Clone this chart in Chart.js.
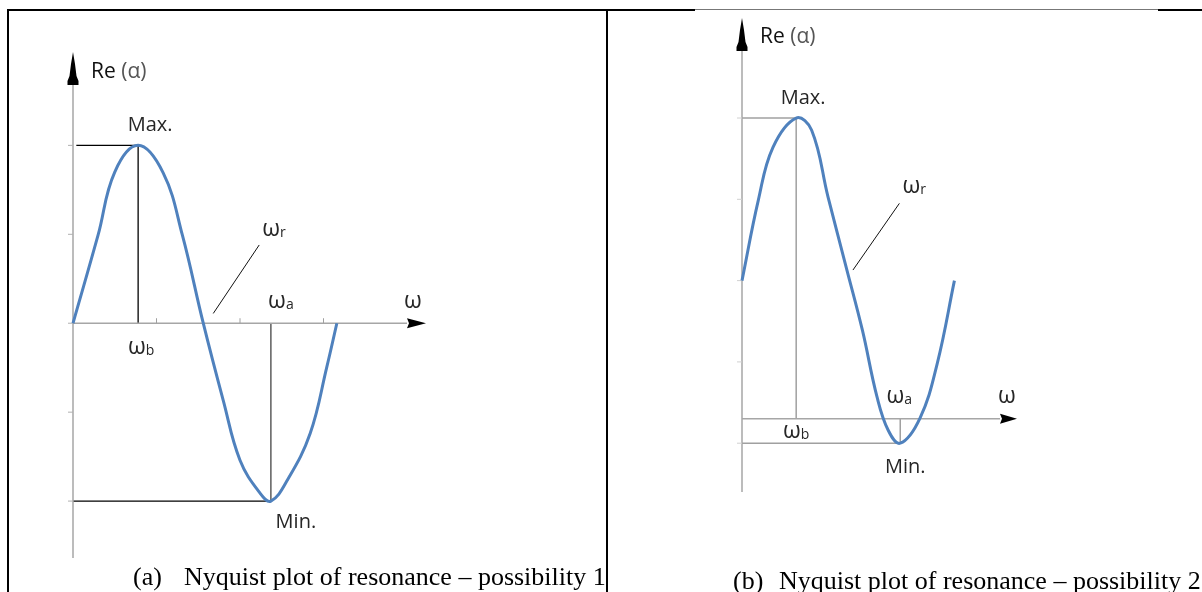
<!DOCTYPE html>
<html>
<head>
<meta charset="utf-8">
<script src="https://cdn.jsdelivr.net/npm/chart.js@4.4.0/dist/chart.umd.min.js"></script>
<style>
    body { margin: 0; background: #fff; }
    #page { position: relative; width: 1202px; height: 592px; overflow: hidden; background: #fff; }
    .panel { position: absolute; top: 0; height: 592px; overflow: hidden; }
    .panel canvas { position: absolute; left: 0; top: 0; }
    .rule { position: absolute; background: #000; }
    .cap { position: absolute; font-family: "Liberation Serif", "Times New Roman", serif; font-size: 26px; color: #000; white-space: nowrap; line-height: 26px; }
</style>
</head>
<body>
<div id="page">
    <div class="panel" style="left:0;width:607px">
        <canvas id="chartA" width="607" height="592" style="width:607px;height:592px"></canvas>
        <div class="cap" style="left:133px;top:564px">(a)</div>
        <div class="cap" style="left:184px;top:564px">Nyquist plot of resonance – possibility 1</div>
    </div>
    <div class="panel" style="left:608px;width:594px">
        <canvas id="chartB" width="594" height="592" style="width:594px;height:592px"></canvas>
        <div class="cap" style="left:125px;top:568px">(b)</div>
        <div class="cap" style="left:171px;top:568px">Nyquist plot of resonance – possibility 2</div>
    </div>
    <div class="rule" style="left:7px;top:9px;width:2px;height:583px"></div>
    <div class="rule" style="left:7px;top:9px;width:688px;height:2px"></div>
    <div class="rule" style="left:695px;top:9px;width:463px;height:1px;background:#777"></div>
    <div class="rule" style="left:1158px;top:9px;width:44px;height:2px"></div>
    <div class="rule" style="left:606px;top:9px;width:2px;height:583px"></div>
</div>
<script>
// (a) curve: omega vs Re(alpha)
const aOmega = [0, 0.30, 0.50, 0.78, 1.08, 1.31, 1.56, 1.80, 2.00, 2.24, 2.37, 2.57, 2.84, 3.04, 3.16];
const aRe = [0, 0.99, 1.70, 2.0, 1.69, 0.99, 0, -0.87, -1.54, -1.91, -2.0, -1.76, -1.24, -0.49, 0];
const aTicksY = [-2, -1, 0, 1, 2];
const aTicksX = [1, 2, 3];

// (b) curve
const bOmega = [0, 0.19, 0.36, 0.63, 0.81, 1.00, 1.22, 1.40, 1.57, 1.70, 1.84, 2.07, 2.27, 2.47];
const bRe = [2.0, 2.99, 3.64, 4.0, 3.85, 3.03, 2.13, 1.39, 0.57, 0.16, 0.0, 0.31, 0.98, 2.0];
const bTicksY = [0, 1, 2, 3, 4];
const bTicksX = [];

const FONT = '"Open Sans", "Noto Sans", sans-serif';
const TEXT = '#262626';

function seg(ctx, x1, y1, x2, y2, color, w) {
    ctx.save();
    ctx.strokeStyle = color;
    ctx.lineWidth = w;
    ctx.beginPath();
    ctx.moveTo(x1, y1);
    ctx.lineTo(x2, y2);
    ctx.stroke();
    ctx.restore();
}

function poly(ctx, pts) {
    ctx.save();
    ctx.fillStyle = '#000';
    ctx.beginPath();
    pts.forEach((p, i) => (i ? ctx.lineTo(p[0], p[1]) : ctx.moveTo(p[0], p[1])));
    ctx.closePath();
    ctx.fill();
    ctx.restore();
}

function upArrow(ctx, x, tip) {
    poly(ctx, [
        [x, tip], [x + 2, tip + 12], [x + 3.5, tip + 24], [x + 5.5, tip + 29], [x + 5.5, tip + 33],
        [x - 5.5, tip + 33], [x - 5.5, tip + 29], [x - 3.5, tip + 24], [x - 2, tip + 12],
    ]);
}

function rightArrow(ctx, x, y, len) {
    poly(ctx, [[x, y - 5], [x + len, y], [x, y + 5], [x + 2, y]]);
}

function text(ctx, str, x, y, align, size, color, base) {
    ctx.save();
    ctx.font = `${size || 20}px ${FONT}`;
    ctx.fillStyle = color || TEXT;
    ctx.textAlign = align || 'left';
    ctx.textBaseline = base || 'middle';
    ctx.fillText(str, x, y);
    ctx.restore();
}

// omega with a small subscript; y is the baseline
function omega(ctx, sub, x, y, align) {
    ctx.save();
    ctx.font = `23px ${FONT}`;
    const w1 = ctx.measureText('ω').width;
    ctx.font = `14px ${FONT}`;
    const w2 = sub ? ctx.measureText(sub).width : 0;
    ctx.restore();
    const left = align === 'center' ? x - (w1 + w2) / 2 : x;
    text(ctx, 'ω', left, y, 'left', 23, TEXT, 'alphabetic');
    if (sub) text(ctx, sub, left + w1, y + 1, 'left', 14, TEXT, 'alphabetic');
}

function reLabel(ctx, x, y) {
    ctx.save();
    ctx.font = `21px ${FONT}`;
    const w = ctx.measureText('Re ').width;
    ctx.restore();
    text(ctx, 'Re', x, y, 'left', 21, '#111');
    text(ctx, '(α)', x + w, y, 'left', 21, '#555');
}

const nyquistDecor = {
    id: 'nyquistDecor',
    beforeDatasetsDraw(chart, args, o) {
        const { ctx } = chart;
        const xs = chart.scales.x, ys = chart.scales.y;
        const X = (v) => xs.getPixelForValue(v);
        const Y = (v) => ys.getPixelForValue(v);
        const xr = o.xs, yr = o.ys;
        const iMax = yr.indexOf(Math.max(...yr));
        const iMin = yr.indexOf(Math.min(...yr));
        const x0 = X(xs.min), axisY = Y(o.axisAt);

        // guide lines to the extremes
        seg(ctx, X(o.maxGuideFrom), Y(yr[iMax]), X(xr[iMax]), Y(yr[iMax]), o.guide, o.guideW);
        seg(ctx, X(xr[iMax]), Y(yr[iMax]), X(xr[iMax]), axisY, o.guide, o.guideW);
        seg(ctx, x0, Y(yr[iMin]), X(xr[iMin]), Y(yr[iMin]), o.guide, o.guideW);
        seg(ctx, X(xr[iMin]), Y(yr[iMin]), X(xr[iMin]), axisY, o.guide2, o.guideW);

        // axes
        seg(ctx, x0, Y(ys.max) + 20, x0, Y(ys.min), '#a6a6a6', 1.5);
        seg(ctx, x0, axisY, X(xs.max), axisY, '#a6a6a6', 1.5);
        o.ticksY.forEach((v) => seg(ctx, x0 - 5, Y(v), x0, Y(v), o.tickColor, 1));
        o.ticksX.forEach((v) => seg(ctx, X(v), axisY - 5, X(v), axisY, '#a0a0a0', 1));

        // pointer to resonance
        const p = o.pointer;
        seg(ctx, X(p[0]), Y(p[1]), X(p[2]), Y(p[3]), '#111', 1);
    },
    afterDatasetsDraw(chart, args, o) {
        const { ctx } = chart;
        const xs = chart.scales.x, ys = chart.scales.y;
        const X = (v) => xs.getPixelForValue(v);
        const Y = (v) => ys.getPixelForValue(v);
        const xr = o.xs, yr = o.ys;
        const iMax = yr.indexOf(Math.max(...yr));
        const iMin = yr.indexOf(Math.min(...yr));
        const x0 = X(xs.min), axisY = Y(o.axisAt), tip = Y(ys.max);
        const L = o.lab;

        upArrow(ctx, x0, tip);
        rightArrow(ctx, X(xs.max), axisY, o.arrowLen);

        reLabel(ctx, x0 + 18, tip + L.re);
        text(ctx, 'Max.', X(xr[iMax]) + L.max[0], Y(yr[iMax]) + L.max[1], 'center');
        text(ctx, 'Min.', X(xr[iMin]) + L.min[0], Y(yr[iMin]) + L.min[1], 'center');
        omega(ctx, 'r', X(o.pointer[2]) + L.r[0], Y(o.pointer[3]) + L.r[1], 'left');
        omega(ctx, 'a', X(xr[iMin]) + L.a[0], axisY + L.a[1], 'center');
        omega(ctx, 'b', X(xr[iMax]) + L.b[0], axisY + L.b[1], 'center');
        omega(ctx, '', X(xs.max) + L.w[0], axisY + L.w[1], 'left');
    },
};

function nyquist(id, xr, yr, opts) {
    const canvas = document.getElementById(id);
    return new Chart(canvas.getContext('2d'), {
        type: 'line',
        data: {
            datasets: [{
                data: xr.map((x, i) => ({ x, y: yr[i] })),
                borderColor: '#4f81bd',
                borderWidth: 3,
                pointRadius: 0,
                tension: 0.4,
                fill: false,
                clip: false,
            }],
        },
        options: {
            responsive: false,
            animation: false,
            events: [],
            layout: { padding: opts.padding },
            plugins: {
                legend: { display: false },
                tooltip: { enabled: false },
                nyquistDecor: { xs: xr, ys: yr, ...opts.decor },
            },
            scales: {
                x: { type: 'linear', display: false, min: opts.x[0], max: opts.x[1] },
                y: { type: 'linear', display: false, min: opts.y[0], max: opts.y[1] },
            },
        },
        plugins: [nyquistDecor],
    });
}

document.addEventListener('DOMContentLoaded', () => {
    nyquist('chartA', aOmega, aRe, {
        padding: { left: 73, right: 200, top: 52, bottom: 34 },
        x: [0, 4],
        y: [-2.64, 3.05],
        decor: {
            axisAt: 0,
            ticksY: aTicksY,
            ticksX: aTicksX,
            tickColor: '#b0b0b0',
            maxGuideFrom: 0.04,
            guide: '#000',
            guide2: '#444',
            guideW: 1.3,
            arrowLen: 19,
            pointer: [1.68, 0.11, 2.23, 0.88],
            lab: { re: 20, max: [12, -20], min: [25, 21], r: [3, -9], a: [10, -15], b: [3, 31], w: [-3, -15] },
        },
    });

    nyquist('chartB', bOmega, bRe, {
        padding: { left: 134, right: 202, top: 18, bottom: 100 },
        x: [0, 3],
        y: [-0.6, 5.23],
        decor: {
            axisAt: 0.3,
            ticksY: bTicksY,
            ticksX: bTicksX,
            tickColor: '#d0d0d0',
            maxGuideFrom: 0,
            guide: '#a0a0a0',
            guide2: '#a0a0a0',
            guideW: 1.5,
            arrowLen: 17,
            pointer: [1.29, 2.13, 1.83, 2.95],
            lab: { re: 19, max: [7, -20], min: [5, 24], r: [3, -10], a: [-1, -16], b: [0, 19], w: [-2, -16] },
        },
    });
});
</script>
</body>
</html>
